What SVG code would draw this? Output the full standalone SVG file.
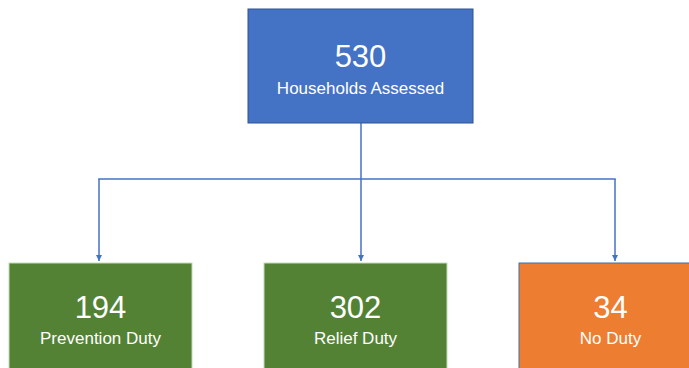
<svg xmlns="http://www.w3.org/2000/svg" width="689" height="368" viewBox="0 0 689 368">
<style>
.num{font-family:"Liberation Sans",Arial,sans-serif;font-size:31px;fill:#fff;text-anchor:middle}
.lbl{font-family:"Liberation Sans",Arial,sans-serif;font-size:17px;fill:#fff;text-anchor:middle}
.conn{fill:none;stroke:#4472C4;stroke-width:1.5}
</style>
<defs>
<marker id="ah" viewBox="0 0 10 10" refX="10" refY="5" markerWidth="4" markerHeight="4" orient="auto" markerUnits="strokeWidth">
<path d="M0,0 L10,5 L0,10 z" fill="#4472C4"/>
</marker>
</defs>
<rect width="689" height="368" fill="#fff"/>
<g id="connectors">
<line class="conn" x1="361" y1="123" x2="361" y2="179"/>
<line class="conn" x1="98.25" y1="179" x2="615.75" y2="179"/>
<line class="conn" x1="99" y1="179" x2="99" y2="261" marker-end="url(#ah)"/>
<line class="conn" x1="361" y1="179" x2="361" y2="261" marker-end="url(#ah)"/>
<line class="conn" x1="615" y1="179" x2="615" y2="261" marker-end="url(#ah)"/>
</g>
<g id="node-households">
<rect x="248" y="9" width="225" height="114" fill="#4472C4" stroke="#2F528F" stroke-width="1"/>
<text class="num" x="360.5" y="67">530</text>
<text class="lbl" x="360.5" y="94">Households Assessed</text>
</g>
<g id="node-prevention">
<rect x="9" y="263" width="183" height="115" fill="#548235" stroke="#C5D9B8" stroke-width="1"/>
<text class="num" x="100.5" y="318">194</text>
<text class="lbl" x="100.5" y="344">Prevention Duty</text>
</g>
<g id="node-relief">
<rect x="264" y="263" width="183" height="115" fill="#548235" stroke="#C5D9B8" stroke-width="1"/>
<text class="num" x="355.5" y="318">302</text>
<text class="lbl" x="355.5" y="344">Relief Duty</text>
</g>
<g id="node-noduty">
<rect x="519" y="263" width="183" height="115" fill="#ED7D31" stroke="#41719C" stroke-width="1"/>
<text class="num" x="610.5" y="318">34</text>
<text class="lbl" x="610.5" y="344">No Duty</text>
</g>
</svg>
